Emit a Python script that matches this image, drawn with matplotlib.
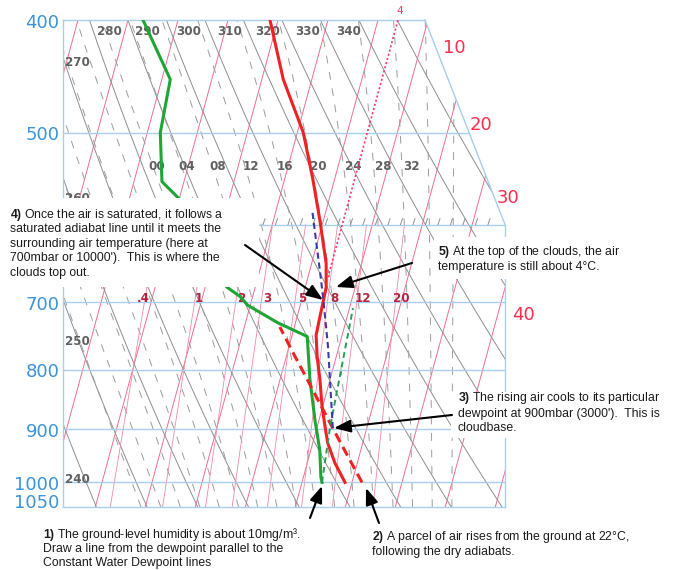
import numpy as np
import matplotlib
matplotlib.use("Agg")
import matplotlib.pyplot as plt
from matplotlib.patches import Polygon, Rectangle, FancyArrowPatch
from matplotlib import transforms as mtrans

plt.rcParams['font.family'] = ['DejaVu Sans']
plt.rcParams['mathtext.fontset'] = 'custom'
plt.rcParams['mathtext.rm'] = 'Liberation Sans'
plt.rcParams['mathtext.bf'] = 'Liberation Sans:bold'

# ---------------- sounding data (hPa, °C) ----------------
p_env = [400, 450, 500, 549, 595, 648, 679, 700, 725, 747, 780, 816, 861, 896, 925, 962, 1000]
t_env = [-21.6, -15.7, -8.8, -4.3, -0.7, 2.9, 4.2, 4.4, 4.6, 4.8, 6.2, 8.0, 9.9, 11.6, 13.0, 15.5, 18.6]

p_dew = [400, 450, 500, 551, 571, 679, 692, 704, 729, 749, 816, 884, 938, 990, 1000]
t_dew = [-47.0, -38.3, -37.4, -34.4, -29.8, -15.7, -12.5, -10.5, -3.5, 3.1, 6.0, 9.2, 11.8, 13.5, 14.0]

# rising parcel, dry adiabatic from the surface
p_parcel = [1000, 956, 906, 861, 811, 773, 735]
t_parcel = [22.0, 18.3, 13.9, 9.8, 5.0, 1.1, -2.9]

# line drawn up from the surface dewpoint
p_dewline = [1000, 896, 708]
t_dewline = [14.0, 12.6, 10.7]

# saturated ascent from cloud base
p_moist = [898, 764, 696, 660, 583]
t_moist = [13.2, 7.8, 4.3, 2.2, -2.8]

# cloud-top isotherm
cloud_top_t = 4.0
p_cloud_iso = [666, 400]

# ---------------- diagram furniture ----------------
isobars = [400, 500, 600, 700, 800, 900, 1000, 1050]
isobar_labels = ['400', '500', '', '700', '800', '900', '1000', '1050']
isotherms = np.arange(-110, 60, 10)
dry_thetas = np.arange(200, 430, 10)
wet_thetas = np.arange(-24, 44, 4)
mix_ratios = [0.4, 1, 2, 3, 5, 8, 12, 20]

theta_top_labels = ['280', '290', '300', '310', '320', '330', '340']
theta_left_labels = ['270', '260', '250', '240']
thetaw_labels = ['00', '04', '08', '12', '16', '20', '24', '28', '32']
mix_labels = ['.4', '1', '2', '3', '5', '8', '12', '20']
iso_labels = ['10', '20', '30', '40']

W, H, DPI = 674, 570, 100
K = 27.5              # skew: °C of shift per e-fold of pressure
XL, XC, XR = -37.8, 34.6, 50.6

def skx(t, p):
    return np.asarray(t, float) + K * np.log(1000.0 / np.asarray(p, float))

def fx(x):
    return x / W

def fy(y):
    return 1.0 - y / H

fig = plt.figure(figsize=(W / DPI, H / DPI), dpi=DPI)
ax = fig.add_axes([63 / W, 63 / H, 442 / W, 487 / H])
ax.set_yscale('log')
ax.axis('off')

clip = Polygon([(XL, 400), (XC, 400), (XR, 600), (XR, 1050), (XL, 1050)],
               closed=True, transform=ax.transData, facecolor='none', edgecolor='none')

def grid_line(x, p, **kw):
    ln, = ax.plot(x, p, **kw)
    ln.set_clip_path(clip)
    return ln

pfull = np.geomspace(1050, 400, 120)

PINK = '#ee6f90'
GREY = '#8e8e8e'
BLUE_GRID = '#a9cdec'

for t in isotherms:
    grid_line(skx(np.full_like(pfull, t), pfull), pfull, color=PINK, lw=0.7, zorder=1)

for th in dry_thetas:
    tt = th * (pfull / 1000.0) ** 0.286 - 273.15
    grid_line(skx(tt, pfull), pfull, color=GREY, lw=0.7, zorder=1)

Rd, Cp, Lv, EPS = 287.04, 1005.7, 2.501e6, 0.622

def sat_slope(p, tk):
    e = 6.112 * np.exp(17.67 * (tk - 273.15) / (tk - 29.65))
    rs = EPS * e / (p - e)
    return (Rd * tk + Lv * rs) / (p * (Cp + Lv * Lv * rs * EPS / (Rd * tk * tk)))

def integrate(tk0, path):
    out = [tk0]
    for p0, p1 in zip(path[:-1], path[1:]):
        h = p1 - p0
        tk = out[-1]
        k1 = sat_slope(p0, tk)
        k2 = sat_slope(p0 + h / 2, tk + h / 2 * k1)
        k3 = sat_slope(p0 + h / 2, tk + h / 2 * k2)
        k4 = sat_slope(p1, tk + h * k3)
        out.append(tk + h / 6 * (k1 + 2 * k2 + 2 * k3 + k4))
    return np.array(out)

p_up = np.geomspace(1000, 400, 240)
p_dn = np.geomspace(1000, 1050, 12)
for tw in wet_thetas:
    up = integrate(tw + 273.15, p_up)
    dn = integrate(tw + 273.15, p_dn)
    pp = np.concatenate([p_dn[::-1], p_up[1:]])
    tt = np.concatenate([dn[::-1], up[1:]]) - 273.15
    grid_line(skx(tt, pp), pp, color='#9c9c9c', lw=0.7, ls=(0, (8, 9)), zorder=1)

pmix = np.geomspace(1050, 600, 40)
for w in mix_ratios:
    e = w * pmix / (622.0 + w)
    le = np.log(e / 6.112)
    td = 243.5 * le / (17.67 - le)
    grid_line(skx(td, pmix), pmix, color='#f08aa6', lw=0.6, zorder=1)

# isobars and frame
def right_edge(p):
    if p <= 600:
        return XC + (XR - XC) * np.log(p / 400.0) / np.log(1.5)
    return XR

for p in isobars[1:-1]:
    ax.plot([XL, right_edge(p)], [p, p], color=BLUE_GRID, lw=1.0, zorder=2)
ax.plot([XL, XC], [400, 400], color=BLUE_GRID, lw=1.0, zorder=2, clip_on=False)
ax.plot([XC, XR], [400, 600], color=BLUE_GRID, lw=1.0, zorder=2, clip_on=False)
ax.plot([XR, XR], [600, 1050], color=BLUE_GRID, lw=1.0, zorder=2, clip_on=False)
ax.plot([XL, XL], [400, 1050], color=BLUE_GRID, lw=1.0, zorder=2, clip_on=False)
ax.plot([XL, XR], [1050, 1050], color=BLUE_GRID, lw=1.0, zorder=2, clip_on=False)

# hatch marks along the 600 hPa line
for xt in np.arange(2.2, 48.0, 2.5):
    ax.plot([xt, xt + 0.4], [600, 593], color='#909090', lw=0.7, zorder=2)

# ---------------- soundings ----------------
ax.plot(skx(t_env, p_env), p_env, color='#ee2222', lw=2.2, zorder=6, solid_joinstyle='round')
ax.plot(skx(t_dew, p_dew), p_dew, color='#1fa535', lw=2.2, zorder=6, solid_joinstyle='round')
ax.plot(skx(t_parcel, p_parcel), p_parcel, color='#ee2222', lw=2.2, ls=(0, (3.2, 1.8)), zorder=6)
ax.plot(skx(t_dewline, p_dewline), p_dewline, color='#2a9a55', lw=1.4, ls=(0, (3.0, 2.0)), zorder=6)
ax.plot(skx(t_moist, p_moist), p_moist, color='#3b3ba8', lw=1.5, ls=(0, (3.0, 1.8)), zorder=6)
iso_x = skx([cloud_top_t, cloud_top_t], p_cloud_iso)
ax.plot(iso_x, p_cloud_iso, color='#ff2f6c', lw=1.2, ls=(0, (1.2, 1.4)), zorder=6)
ax.annotate('{:g}'.format(cloud_top_t), (iso_x[-1], p_cloud_iso[-1]), xytext=(1, 3),
            textcoords='offset points', ha='center', va='bottom', fontsize=7.5,
            color='#ff3a6a', annotation_clip=False)

# ---------------- labels ----------------
press_tr = mtrans.blended_transform_factory(fig.transFigure, ax.transData)
for p, lab in zip(isobars, isobar_labels):
    if not lab:
        continue
    dy = 1.0 if p == 1050 else 7.5
    tr = press_tr + mtrans.ScaledTranslation(0, -dy / DPI, fig.dpi_scale_trans)
    ax.text(59.5 / W, p, lab, transform=tr, ha='right', va='baseline', fontsize=13,
            color='#3b93d9', clip_on=False, zorder=3)

iso_pos = [(443, 53), (470, 130), (497, 203), (512, 320)]
for lab, (x, y) in zip(iso_labels, iso_pos):
    ax.text(fx(x), fy(y), lab, transform=fig.transFigure, ha='left', va='baseline',
            fontsize=13, color='#ff2d4e', clip_on=False, zorder=3)

lab_style = dict(transform=fig.transFigure, ha='left', va='baseline', fontsize=8.6,
                 fontweight='bold', color='#606060', clip_on=False, zorder=3)
for lab, x in zip(theta_top_labels, [97, 135, 176, 217, 255, 295, 336]):
    ax.text(fx(x), fy(35), lab, **lab_style)
for lab, y in zip(theta_left_labels, [66.5, 202.5, 345, 483]):
    ax.text(fx(65), fy(y), lab, **lab_style)
for lab, x in zip(thetaw_labels, [148, 178, 209, 243, 277, 310, 345, 375, 403]):
    ax.text(fx(x), fy(170), lab, **lab_style)
mix_style = dict(lab_style, color='#b22540')
for lab, x in zip(mix_labels, [137, 195, 238, 263, 298, 330, 355, 393]):
    ax.text(fx(x), fy(302), lab, **mix_style)

ax.set_xlim(XL, XR)
ax.set_ylim(1050, 400)

# ---------------- notes ----------------
for (x0, y0, x1, y1) in [(0, 198, 259, 287), (434, 237, 674, 279), (451, 392, 674, 438)]:
    fig.add_artist(Rectangle((fx(x0), fy(y1)), (x1 - x0) / W, (y1 - y0) / H,
                             transform=fig.transFigure, facecolor='white',
                             edgecolor='none', zorder=2))

notes = [
    (10, [218, 232.5, 247, 261.5, 276],
     [r'$\mathbf{4)}$ Once the air is saturated, it follows a',
      'saturated adiabat line until it meets the',
      'surrounding air temperature (here at',
      "700mbar or 10000').  This is where the",
      'clouds top out.']),
    (438, [255.5, 270],
     [r'$\mathbf{5)}$ At the top of the clouds, the air',
      'temperature is still about 4°C.']),
    (458, [401.5, 416.5, 431],
     [r'$\mathbf{3)}$ The rising air cools to its particular',
      "dewpoint at 900mbar (3000').  This is",
      'cloudbase.']),
    (372, [540, 555],
     [r'$\mathbf{2)}$ A parcel of air rises from the ground at 22°C,',
      'following the dry adiabats.']),
    (43, [538, 552, 566],
     [r'$\mathbf{1)}$ The ground-level humidity is about 10mg/m³.',
      'Draw a line from the dewpoint parallel to the',
      'Constant Water Dewpoint lines']),
]
for x0, ys, lines in notes:
    for y, s in zip(ys, lines):
        fig.text(fx(x0), fy(y), s, ha='left', va='baseline', fontsize=8.8,
                 family='Liberation Sans', color='#1a1a1a', zorder=3)

arrows = [((310, 518), (322, 486)), ((379, 523), (366, 488)), ((452, 415), (334, 428)),
          ((245, 245), (323, 300)), ((412, 263), (336, 287))]
for (xa, ya), (xb, yb) in arrows:
    fig.add_artist(FancyArrowPatch((fx(xa), fy(ya)), (fx(xb), fy(yb)),
                                   transform=fig.transFigure,
                                   arrowstyle='-|>,head_length=1.0,head_width=0.38',
                                   mutation_scale=10, lw=1.5, color='black',
                                   shrinkA=0, shrinkB=0, zorder=4))

fig.savefig('out.png', dpi=DPI, facecolor='white')
